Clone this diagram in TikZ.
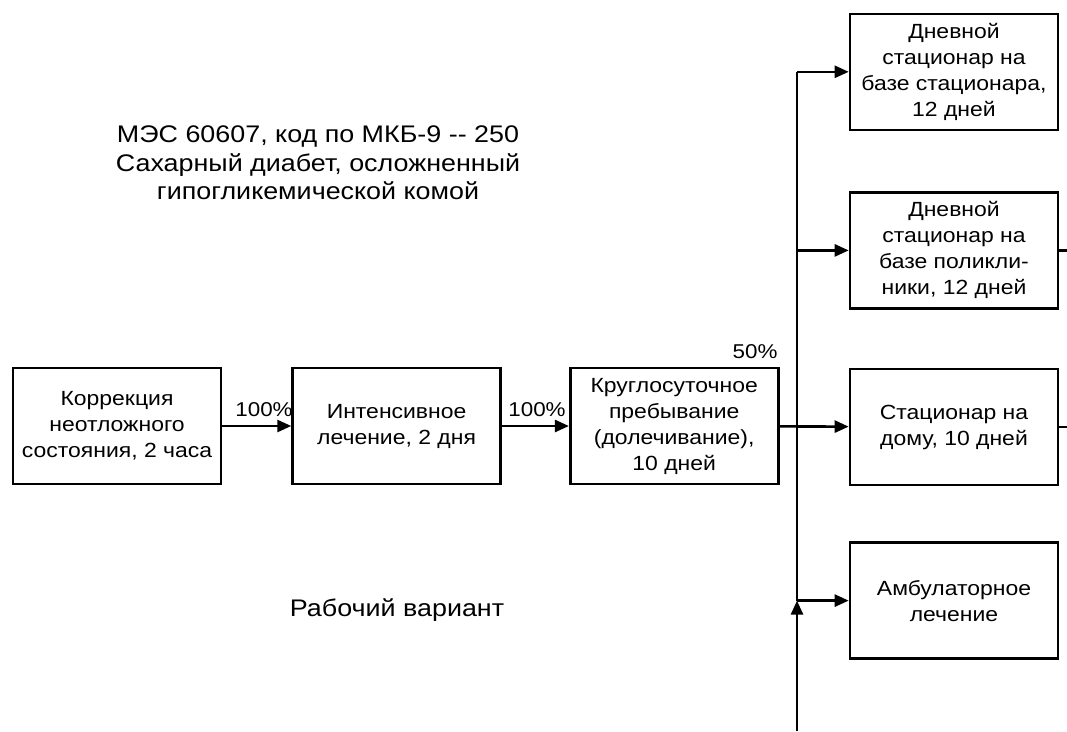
\documentclass[tikz,border=0pt]{standalone}
\usepackage{fontspec}
\setmainfont[FakeStretch=1.12]{Liberation Sans}
\usepackage{tikz}
\usetikzlibrary{arrows.meta,positioning}

\begin{document}
\begin{tikzpicture}[
  x=1pt, y=-1pt,
  node distance=70pt and 70pt,
  box/.style={draw, line width=2.6pt, align=center, minimum width=208pt, minimum height=116pt, inner sep=0pt, font=\fontsize{20.5}{26}\selectfont},
  lbl/.style={font=\fontsize{20}{24}\selectfont, inner sep=0pt},
  arrow/.style={-{Triangle[length=14pt,width=12pt]}, line width=2.6pt},
  wire/.style={line width=2.6pt}
]
\useasboundingbox (0,0) rectangle (1067,731);

% main chain
\node[box] (korr) at (117,426) {Коррекция\\неотложного\\состояния, 2 часа};
\node[box, right=69pt of korr] (intens) {Интенсивное\\лечение, 2 дня};
\node[box, right=67pt of intens] (krug) {Круглосуточное\\пребывание\\(долечивание),\\10 дней};

% right column
\node[box] (sdom) at (954,427) {Стационар на\\дому, 10 дней};
\node[box, above=58pt of sdom] (dpol) {Дневной\\стационар на\\базе поликли-\\ники, 12 дней};
\node[box, above=60pt of dpol] (dstac) {Дневной\\стационар на\\базе стационара,\\12 дней};
\node[box, below=55pt of sdom] (amb) {Амбулаторное\\лечение};

% bus
\coordinate (jA) at (797,0 |- dstac.west);
\coordinate (jB) at (797,0 |- dpol.west);
\coordinate (jD) at (797,0 |- amb.west);
\coordinate (bot) at (797,731);
\coordinate (outB) at (1067,0 |- dpol.east);
\coordinate (outC) at (1067,0 |- sdom.east);

\draw[arrow] (korr) -- (intens);
\draw[arrow] (intens) -- (krug);
\draw[arrow] (krug) -- (sdom);
\draw[wire] (jD) -- (jA);
\draw[arrow] (bot) -- (jD);
\draw[arrow] (jA) -- (dstac);
\draw[arrow] (jB) -- (dpol);
\draw[arrow] (jD) -- (amb);
\draw[wire] (dpol) -- (outB);
\draw[wire] (sdom) -- (outC);

% labels
\node[lbl] (p1) at (264,410) {100\%};
\node[lbl] (p2) at (537,410) {100\%};
\node[lbl] (p3) at (755,352) {50\%};
\node[align=center, font=\fontsize{24}{28.5}\selectfont] (title) at (318,163) {МЭС 60607, код по МКБ-9 {-}{-} 250\\Сахарный диабет, осложненный\\гипогликемической комой};
\node[font=\fontsize{24}{28}\selectfont] (var) at (397,610) {Рабочий вариант};
\end{tikzpicture}
\end{document}
